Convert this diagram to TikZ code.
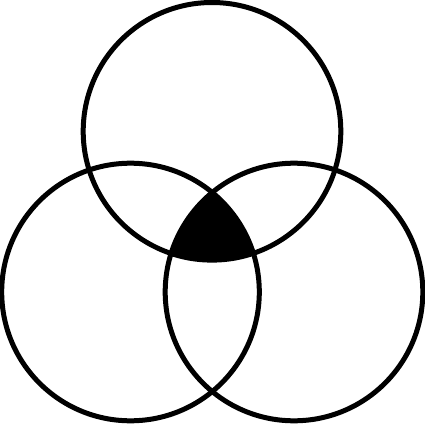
\documentclass[tikz,border=0pt]{standalone}
\usepackage{tikz}
\usetikzlibrary{calc}
\newcommand*{\Rad}{128.8}

\begin{document}
\begin{tikzpicture}[x=1pt,y=-1pt]
\tikzstyle{ring}=[draw,line width=5pt]
\useasboundingbox (0,0) rectangle (425,425);
\coordinate (top) at (212,131.3);
\coordinate (left) at (130.5,292);
\coordinate (right) at (294,292);
\begin{scope}
  \clip (top) circle (\Rad);
  \clip (left) circle (\Rad);
  \fill (right) circle (\Rad);
\end{scope}
\foreach \c in {top,left,right}
  \path[ring] (\c) circle (\Rad);
\end{tikzpicture}
\end{document}
